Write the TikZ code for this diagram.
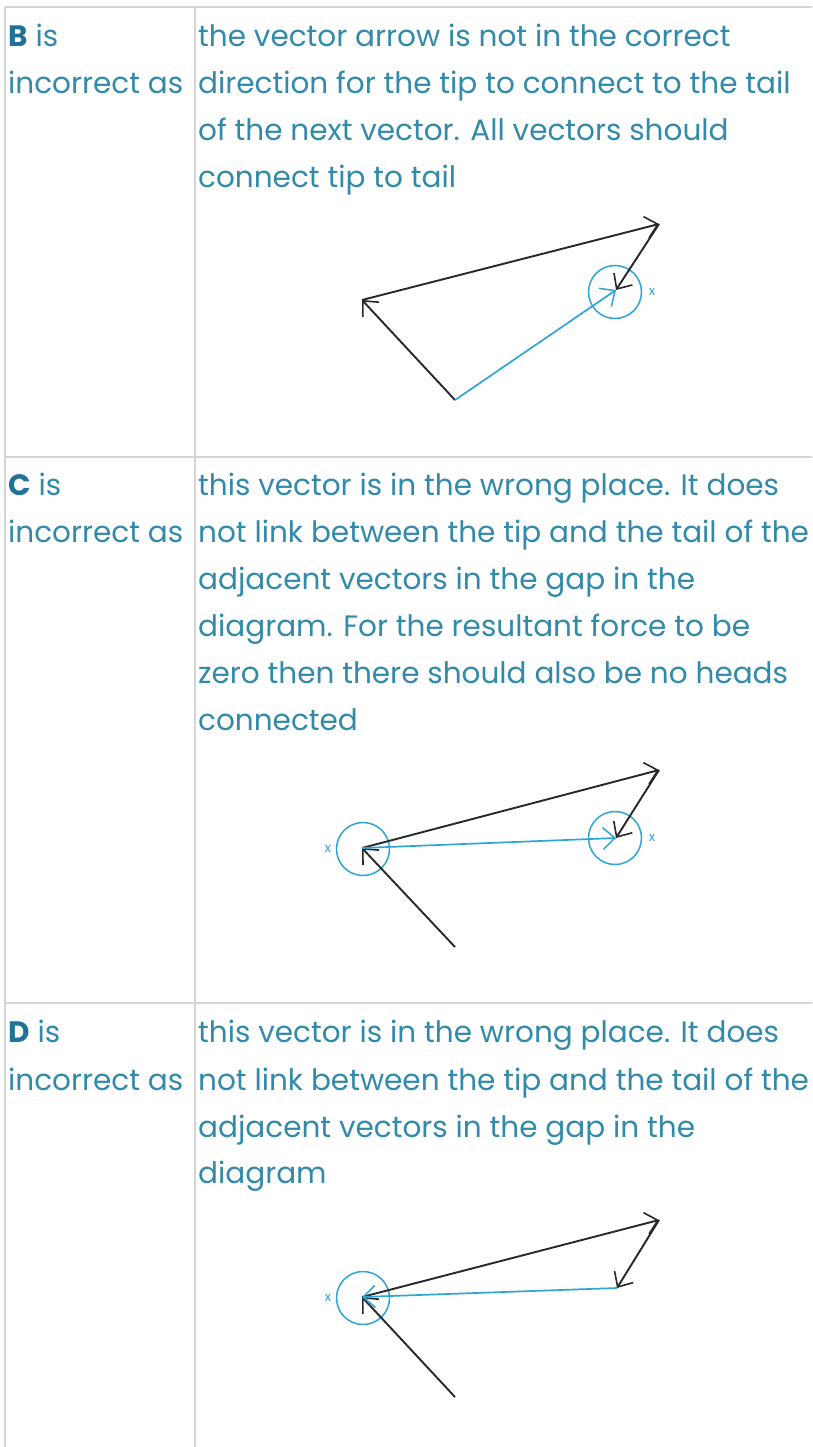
\documentclass[tikz,border=0pt]{standalone}
\usepackage{fontspec}
\setmainfont{Poppins}
\usetikzlibrary{arrows.meta}
\definecolor{txt}{RGB}{50,138,170}
\definecolor{txtb}{RGB}{30,115,150}
\definecolor{grid}{RGB}{212,212,212}
\definecolor{vblue}{RGB}{45,165,215}
\definecolor{vblack}{RGB}{40,40,40}
\tikzset{
  line/.style={anchor=base west, inner sep=0pt, text=txt, font=\fontsize{29.5}{34}\selectfont},
  gridline/.style={draw=grid, line width=1.6pt},
  vec/.style={draw=vblack, line width=1.9pt, -{Straight Barb[length=12pt,width=22pt,line width=1.6pt]}},
  bvec/.style={draw=vblue, line width=1.7pt, -{Straight Barb[length=12pt,width=22pt,line width=1.5pt]}},
  ring/.style={circle, draw=vblue, line width=1.5pt, minimum size=53pt, inner sep=0pt},
  xlab/.style={text=vblue, font=\fontsize{13}{13}\selectfont, inner sep=0pt}
}
\begin{document}
\begin{tikzpicture}[x=1pt,y=-1pt]
\useasboundingbox (0,0) rectangle (812,1447);
\fill[white] (0,0) rectangle (812,1447);
% grid
\coordinate (t0) at (5,7);
\coordinate (t1) at (812,7);
\coordinate (r1a) at (5,457);
\coordinate (r1b) at (812,457);
\coordinate (r2a) at (5,1003);
\coordinate (r2b) at (812,1003);
\coordinate (lb) at (5,1447);
\coordinate (dt) at (195,7);
\coordinate (db) at (195,1447);
\draw[gridline] (t0) -- (t1);
\draw[gridline] (r1a) -- (r1b);
\draw[gridline] (r2a) -- (r2b);
\draw[gridline] (t0) -- (lb);
\draw[gridline] (dt) -- (db);
% row B
\node[line] (bl1) at (8,47) {{\bfseries\color{txtb}B} is};
\node[line] (bl2) at (8,94) {incorrect as};
\node[line] (br1) at (198,47) {the vector arrow is not in the correct};
\node[line] (br2) at (198,94) {direction for the tip to connect to the tail};
\node[line] (br3) at (198,141) {of the next vector. All vectors should};
\node[line] (br4) at (198,188) {connect tip to tail};
% row C
\node[line] (cl1) at (8,495) {{\bfseries\color{txtb}C} is};
\node[line] (cl2) at (8,542) {incorrect as};
\node[line] (cr1) at (198,495) {this vector is in the wrong place. It does};
\node[line] (cr2) at (198,542) {not link between the tip and the tail of the};
\node[line] (cr3) at (198,589) {adjacent vectors in the gap in the};
\node[line] (cr4) at (198,636) {diagram. For the resultant force to be};
\node[line] (cr5) at (198,683) {zero then there should also be no heads};
\node[line] (cr6) at (198,730) {connected};
% row D
\node[line] (dl1) at (8,1042) {{\bfseries\color{txtb}D} is};
\node[line] (dl2) at (8,1090) {incorrect as};
\node[line] (dr1) at (198,1042) {this vector is in the wrong place. It does};
\node[line] (dr2) at (198,1090) {not link between the tip and the tail of the};
\node[line] (dr3) at (198,1137) {adjacent vectors in the gap in the};
\node[line] (dr4) at (198,1183) {diagram};
% diagram B
\coordinate (bA) at (455,400);
\coordinate (bB) at (362,300);
\coordinate (bC) at (659,224);
\coordinate (bD) at (616,290);
\node[ring] (bO) at (615,292) {};
\node[xlab] (bx) at (652,292) {x};
\draw[vec] (bA) -- (bB);
\draw[vec] (bB) -- (bC);
\draw[vec] (bC) -- (bD);
\draw[bvec] (bA) -- (bD);
% diagram C
\coordinate (cA) at (455,947);
\coordinate (cB) at (362,848);
\coordinate (cC) at (659,770);
\coordinate (cD) at (616,838);
\node[ring] (cO1) at (363,849) {};
\node[ring] (cO2) at (615,838) {};
\node[xlab] (cx1) at (328,849) {x};
\node[xlab] (cx2) at (652,838) {x};
\draw[vec] (cA) -- (cB);
\draw[vec] (cB) -- (cC);
\draw[vec] (cC) -- (cD);
\draw[bvec] (cB) -- (cD);
% diagram D
\coordinate (dA) at (455,1397);
\coordinate (dB) at (362,1297);
\coordinate (dC) at (659,1220);
\coordinate (dD) at (617,1288);
\node[ring] (dO) at (363,1298) {};
\node[xlab] (dx) at (328,1298) {x};
\draw[vec] (dA) -- (dB);
\draw[vec] (dB) -- (dC);
\draw[vec] (dC) -- (dD);
\draw[bvec] (dD) -- (dB);
\end{tikzpicture}
\end{document}
